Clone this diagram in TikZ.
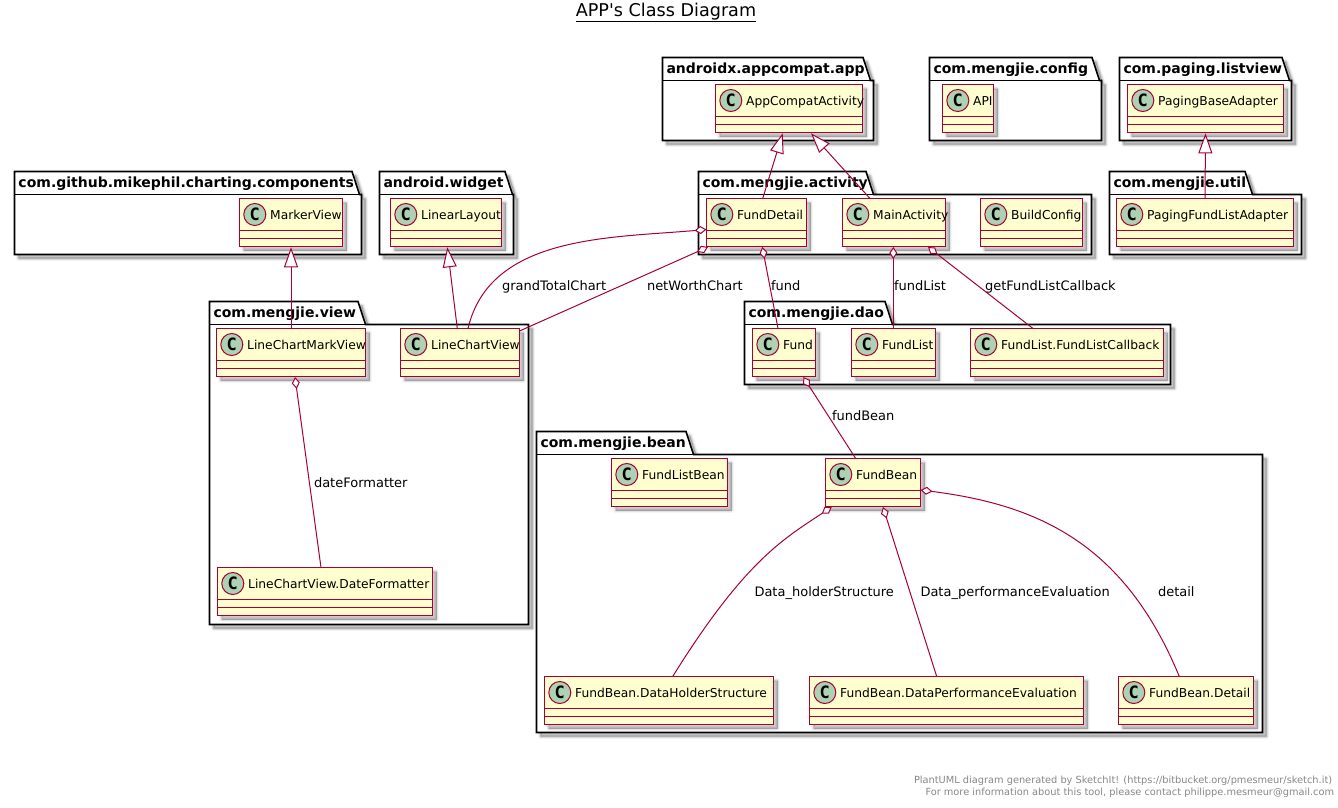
\documentclass[tikz,border=0pt]{standalone}
\usepackage{fontspec}
\setmainfont{DejaVu Sans}
\newfontfamily\plaintitle{DejaVu Sans}
\newfontfamily\monobold[BoldFont={DejaVu Sans Mono Bold}]{DejaVu Sans Mono}
\usetikzlibrary{arrows.meta}
\definecolor{umlred}{HTML}{A80036}
\definecolor{umlfill}{HTML}{FEFECE}
\definecolor{umlcirc}{HTML}{ADD1B2}
\definecolor{umlgray}{HTML}{888888}
\tikzset{
  clsbox/.style={draw=umlred,fill=umlfill,line width=1.2pt,minimum height=36pt,inner sep=0pt,outer sep=0pt},
  clsline/.style={draw=umlred,line width=1.2pt},
  clsname/.style={inner sep=0pt,outer sep=0pt,anchor=base west,text=black,font=\fontsize{9.2}{11}\selectfont},
  clscirc/.style={circle,draw=umlred,fill=umlcirc,line width=.75pt,minimum size=16.5pt,inner sep=0pt,outer sep=0pt},
  clsc/.style={inner sep=0pt,outer sep=0pt,text=black,font=\fontsize{12.75}{13}\selectfont\monobold\bfseries},
  pkgbody/.style={draw=black,fill=white,line width=1.2pt,line join=miter},
  pkgline/.style={draw=black,line width=1.2pt},
  pkgname/.style={inner sep=0pt,outer sep=0pt,anchor=base west,text=black,font=\fontsize{10.5}{12}\selectfont\bfseries},
  ext/.style={draw=umlred,line width=.75pt,{Triangle[open,fill=white,length=15pt,width=10.5pt]}-},
  agg/.style={draw=umlred,line width=.75pt,{Kite[open,fill=white,length=9pt,width=6pt,inset=4.5pt]}-},
  edgelabel/.style={inner sep=0pt,outer sep=0pt,anchor=base west,text=black,font=\fontsize{9.75}{11}\selectfont},
  foot/.style={inner sep=0pt,outer sep=0pt,anchor=base west,text=umlgray,font=\fontsize{7.35}{9}\selectfont},
  titlenode/.style={inner sep=0pt,outer sep=0pt,anchor=base,text=black,font=\fontsize{13.2}{16}\selectfont\plaintitle},
  shadowa/.style={black,opacity=.04,line width=4pt,line join=round},
  shadowb/.style={black,opacity=.07,line width=2.6pt,line join=round},
  shadowc/.style={black,opacity=.1,line width=1.2pt,line join=round},
  shadowd/.style={black,opacity=.2},
}
% id, x1, y1, x2, label
\newcommand{\cls}[5]{%
  \pgfmathsetmacro{\cw}{#4-#2}%
  \begin{scope}[shift={(4,4)}]
    \draw[shadowa] (#2,#3) rectangle (#4,#3+48);
    \draw[shadowb] (#2,#3) rectangle (#4,#3+48);
    \draw[shadowc] (#2,#3) rectangle (#4,#3+48);
    \fill[shadowd] (#2,#3) rectangle (#4,#3+48);
  \end{scope}
  \node[clsbox,minimum width=\cw*.75pt,anchor=north west] (#1) at (#2,#3) {};
  \draw[clsline] (#2,#3+32) -- (#4,#3+32);
  \draw[clsline] (#2,#3+40) -- (#4,#3+40);
  \node[clscirc] (#1-circle) at (#2+15.3,#3+16) {};
  \node[clsc] (#1-c) at (#2+15.3,#3+16) {C};
  \node[clsname] (#1-name) at (#2+30.7,#3+20.5) {#5};
}
% id, x1, y1, tabx, x2, y2, label
\newcommand{\pkg}[7]{%
  \begin{scope}[shift={(4,4)}]
    \draw[shadowa] (#2,#3) -- (#4,#3) -- (#4+7.5,#3+23) -- (#5,#3+23) -- (#5,#6) -- (#2,#6) -- cycle;
    \draw[shadowb] (#2,#3) -- (#4,#3) -- (#4+7.5,#3+23) -- (#5,#3+23) -- (#5,#6) -- (#2,#6) -- cycle;
    \draw[shadowc] (#2,#3) -- (#4,#3) -- (#4+7.5,#3+23) -- (#5,#3+23) -- (#5,#6) -- (#2,#6) -- cycle;
    \fill[shadowd] (#2,#3) -- (#4,#3) -- (#4+7.5,#3+23) -- (#5,#3+23) -- (#5,#6) -- (#2,#6) -- cycle;
  \end{scope}
  \draw[pkgbody] (#2,#3) -- (#4,#3) -- (#4+7.5,#3+23) -- (#5,#3+23) -- (#5,#6) -- (#2,#6) -- cycle;
  \draw[pkgline] (#2,#3+23) -- (#4+7.5,#3+23);
  \node[pkgname] (#1) at (#2+4,#3+16.3) {#7};
}
\begin{document}
\begin{tikzpicture}[x=.75pt,y=-.75pt]
\useasboundingbox (0,0) rectangle (1338,807);
\fill[white] (0,0) rectangle (1338,807);
\node[titlenode] (title) at (666,16) {\underline{APP's Class Diagram}};

\pkg{papp}{662.5}{57.5}{863}{873.5}{140.5}{androidx.appcompat.app}
\pkg{pcfg}{929.5}{57.5}{1092}{1101.5}{140.5}{com.mengjie.config}
\pkg{ppag}{1119.5}{57.5}{1282}{1291.5}{140.5}{com.paging.listview}
\pkg{pchart}{14.5}{171.5}{352}{361.5}{254.5}{com.github.mikephil.charting.components}
\pkg{pwid}{379.5}{171.5}{505}{513.5}{254.5}{android.widget}
\pkg{pact}{698.5}{171.5}{866}{1091.5}{254.5}{com.mengjie.activity}
\pkg{putil}{1109.5}{171.5}{1245}{1301.5}{254.5}{com.mengjie.util}
\pkg{pview}{209.5}{301.5}{358}{528.5}{624.5}{com.mengjie.view}
\pkg{pdao}{744.5}{301.5}{885}{1170.5}{384.5}{com.mengjie.dao}
\pkg{pbean}{536.5}{431.5}{686}{1262.5}{732.5}{com.mengjie.bean}

\cls{app}{715.5}{84.5}{862.5}{AppCompatActivity}
\cls{api}{942.5}{84.5}{993.5}{API}
\cls{pba}{1127.5}{84.5}{1283.5}{PagingBaseAdapter}
\cls{mv}{239.5}{198.5}{342.5}{MarkerView}
\cls{ll}{390.5}{198.5}{501.5}{LinearLayout}
\cls{fd}{706.5}{198.5}{806.5}{FundDetail}
\cls{ma}{842.5}{198.5}{945.5}{MainActivity}
\cls{bc}{980.5}{198.5}{1082.5}{BuildConfig}
\cls{pfla}{1116.5}{198.5}{1293.5}{PagingFundListAdapter}
\cls{lcmv}{216.5}{328.5}{365.5}{LineChartMarkView}
\cls{lcv}{400.5}{328.5}{519.5}{LineChartView}
\cls{fund}{752.5}{328.5}{815.5}{Fund}
\cls{fl}{851.5}{328.5}{935.5}{FundList}
\cls{cb}{970.5}{328.5}{1163.5}{FundList.FundListCallback}
\cls{flb}{611.5}{458.5}{727.5}{FundListBean}
\cls{fb}{825.5}{458.5}{920.5}{FundBean}
\cls{df}{217.5}{567.5}{432.5}{LineChartView.DateFormatter}
\cls{dhs}{544.5}{676.5}{773.5}{FundBean.DataHolderStructure}
\cls{dpe}{809.5}{676.5}{1083.5}{FundBean.DataPerformanceEvaluation}
\cls{det}{1118.5}{676.5}{1253.5}{FundBean.Detail}

% generalisations
\draw[ext] ([shift={(67.2,.8)}]app.south west) -- ([shift={(56.2,0)}]fd.north west);
\draw[ext] ([shift={(95.5,.8)}]app.south west) -- ([shift={(27.5,0)}]ma.north west);
\draw[ext] ([shift={(0,.8)}]pba.south) -- ([shift={(88.5,0)}]pfla.north west);
\draw[ext] ([shift={(0,.8)}]mv.south) -- (lcmv.north);
\draw[ext] ([shift={(56.8,.8)}]ll.south west) -- ([shift={(56.8,0)}]lcv.north west);

% aggregations
\draw[agg] ([shift={(0,31)}]fd.north west) .. controls (610,238) and (490,235) .. ([shift={(67.5,0)}]lcv.north west);
\draw[agg] ([shift={(1.5,.5)}]fd.south west) -- ([shift={(0,2.5)}]lcv.north east);
\draw[agg] ([shift={(55.8,.5)}]fd.south west) -- ([shift={(25.5,0)}]fund.north west);
\draw[agg] ([shift={(50.8,.5)}]ma.south west) -- ([shift={(41.8,0)}]fl.north west);
\draw[agg] ([shift={(85.5,.5)}]ma.south west) -- ([shift={(62.5,0)}]cb.north west);
\draw[agg] ([shift={(50.8,.5)}]fund.south west) -- ([shift={(30.2,0)}]fb.north west);
\draw[agg] ([shift={(6.2,.5)}]fb.south west) .. controls (785,538) and (745,560) .. ([shift={(128.2,0)}]dhs.north west);
\draw[agg] ([shift={(57.5,.5)}]fb.south west) -- ([shift={(127.2,0)}]dpe.north west);
\draw[agg] ([shift={(0,31.5)}]fb.north east) .. controls (1040,505) and (1125,545) .. ([shift={(60.8,0)}]det.north west);
\draw[agg] ([shift={(78.5,.5)}]lcmv.south west) -- ([shift={(103.5,0)}]df.north west);

% labels
\node[edgelabel] (l1) at (502,290) {grandTotalChart};
\node[edgelabel] (l2) at (647,290) {netWorthChart};
\node[edgelabel] (l3) at (771,290) {fund};
\node[edgelabel] (l4) at (894,290) {fundList};
\node[edgelabel] (l5) at (985,290) {getFundListCallback};
\node[edgelabel] (l6) at (832,420) {fundBean};
\node[edgelabel] (l7) at (314,487) {dateFormatter};
\node[edgelabel] (l8) at (754.5,596) {Data\_holderStructure};
\node[edgelabel] (l9) at (920.5,596) {Data\_performanceEvaluation};
\node[edgelabel] (l10) at (1158,596) {detail};

\node[foot] (f1) at (914,783) {PlantUML diagram generated by SketchIt! (https://bitbucket.org/pmesmeur/sketch.it)};
\node[foot] (f2) at (925.5,795) {For more information about this tool, please contact philippe.mesmeur@gmail.com};
\end{tikzpicture}
\end{document}
